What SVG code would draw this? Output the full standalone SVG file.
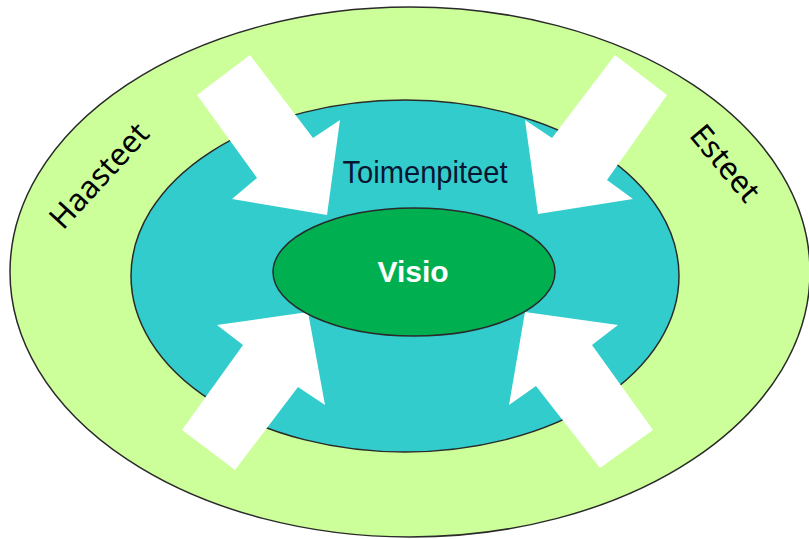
<svg xmlns="http://www.w3.org/2000/svg" width="809" height="539" viewBox="0 0 809 539">
<style>
.ring{stroke:#2a2a2a;stroke-width:1.5}
.arrow{fill:#ffffff;stroke:none}
.side{font-family:"Noto Sans","Open Sans",sans-serif;font-size:31px;fill:#000}
</style>
<rect width="809" height="539" fill="#ffffff"/>
<g id="haasteet-esteet">
<ellipse class="ring" cx="410" cy="272" rx="400" ry="265" fill="#ccff99"/>
<text class="side" x="107" y="183" text-anchor="middle" transform="rotate(-47.5 107 183)">Haasteet</text>
<text class="side" x="717" y="170" text-anchor="middle" transform="rotate(50 717 170)">Esteet</text>
</g>
<g id="toimenpiteet">
<ellipse class="ring" cx="405" cy="276" rx="274" ry="176" fill="#33cccc"/>
</g>
<g id="arrows">
<polygon class="arrow" points="250,55 313,138 340,120 327,215 232,199 257,178 197,95"/>
<polygon class="arrow" points="615,55 667,95 607,180 633,199 538,214 525,120 552,138"/>
<polygon class="arrow" points="308,312 325,405 298,387 235,470 182,430 243,345 217,325"/>
<polygon class="arrow" points="525,312 618,325 592,345 653,430 600,468 536,386 509,405"/>
</g>
<g id="toimenpiteet-label">
<text x="425" y="183" text-anchor="middle" font-family="Liberation Sans, Arial, sans-serif" font-size="32" fill="#0a1530" textLength="165" lengthAdjust="spacingAndGlyphs">Toimenpiteet</text>
</g>
<g id="visio">
<ellipse class="ring" cx="414" cy="272" rx="141" ry="64" fill="#00b050"/>
<text x="413" y="282" text-anchor="middle" font-family="Liberation Sans, Arial, sans-serif" font-size="30" font-weight="bold" fill="#ffffff">Visio</text>
</g>
</svg>
